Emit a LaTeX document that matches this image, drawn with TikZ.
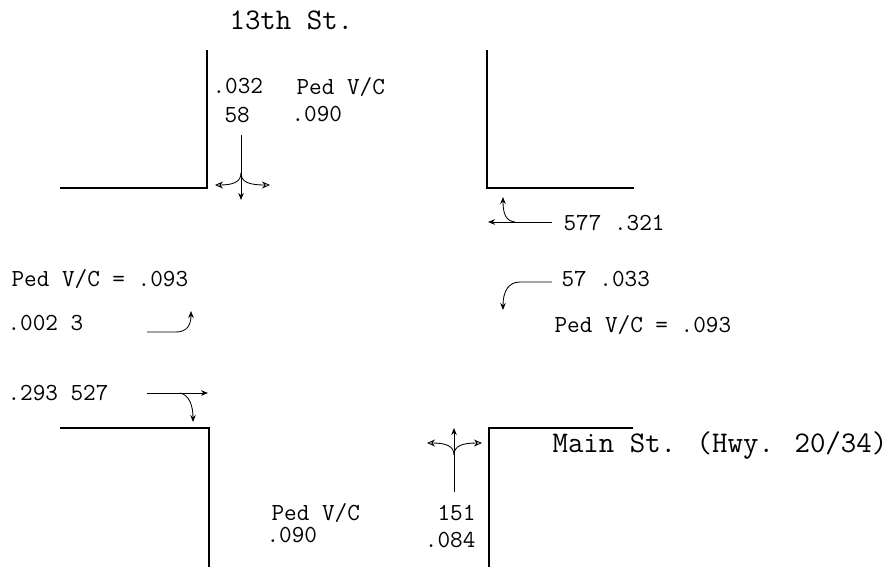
\documentclass[tikz,border=0pt]{standalone}
\usepackage{tikz}
\usetikzlibrary{arrows.meta}

\begin{document}
\begin{tikzpicture}[x=1pt, y=-1pt, line width=1.1pt,
    every node/.style={inner sep=0pt, anchor=base west},
    lbl/.style={font=\ttfamily\fontsize{24.5}{25}\selectfont},
    street/.style={font=\ttfamily\fontsize{30}{30}\selectfont},
    mov/.style={-{Stealth[length=7pt, width=5.5pt]}, line width=0.85pt},
    turn/.style={-{Stealth[open, length=8pt, width=7pt]}, line width=0.85pt}]
  \useasboundingbox (0,0) rectangle (887,567);

  % curb corners
  \draw (60,188) -- (207,188) -- (207,50);
  \draw (487,50) -- (487,188) -- (634,188);
  \draw (60,428) -- (209,428) -- (209,567);
  \draw (489,567) -- (489,428) -- (633,428);

  % street names
  \node[street] (st13) at (229,30) {13th St.};
  \node[street] (stmain) at (552,452) {Main St. (Hwy. 20/34)};

  % north approach
  \node[lbl] (nvc) at (212,94) {.032};
  \node[lbl] (nvol) at (224,123) {58};
  \node[lbl] (nped) at (296,95) {Ped V/C};
  \node[lbl] (npedv) at (291,122) {.090};
  \coordinate (sbA) at (241,135);
  \coordinate (sbJ) at (241,173);
  \draw[mov] (sbA) -- (241,200);
  \draw[turn] (sbJ) .. controls (241,182) and (233,185) .. (215,185);
  \draw[turn] (sbJ) .. controls (241,182) and (249,185) .. (270,185);

  % east approach
  \node[lbl] (evol) at (563,230) {577 .321};
  \node[lbl] (elt) at (561,287) {57 .033};
  \node[lbl] (eped) at (554,332) {Ped V/C = .093};
  \draw[mov] (552,222) -- (488,222);
  \draw[mov] (515,222) .. controls (505,221) and (503,212) .. (503,197);
  \draw[mov] (552,282) -- (520,282) .. controls (508,282) and (503,292) .. (503,310);

  % west approach
  \node[lbl] (wped) at (11,287) {Ped V/C = .093};
  \node[lbl] (wlt) at (7,330) {.002 3};
  \node[lbl] (wvol) at (7,400) {.293 527};
  \draw[mov] (147,332) -- (176,332) .. controls (187,332) and (191,325) .. (191,311);
  \draw[mov] (147,393) -- (208,393);
  \draw[mov] (180,393) .. controls (189,395) and (193,405) .. (193,422);

  % south approach
  \node[lbl] (sped) at (271,520) {Ped V/C};
  \node[lbl] (spedv) at (266,542) {.090};
  \node[lbl, anchor=base east] (svol) at (476,520) {151};
  \node[lbl, anchor=base east] (svc) at (476,547) {.084};
  \coordinate (nbA) at (454,492);
  \coordinate (nbJ) at (454,455);
  \draw[mov] (nbA) -- (454,428);
  \draw[turn] (nbJ) .. controls (454,446) and (446,443) .. (427,443);
  \draw[turn] (nbJ) .. controls (454,446) and (462,443) .. (482,443);
\end{tikzpicture}
\end{document}
